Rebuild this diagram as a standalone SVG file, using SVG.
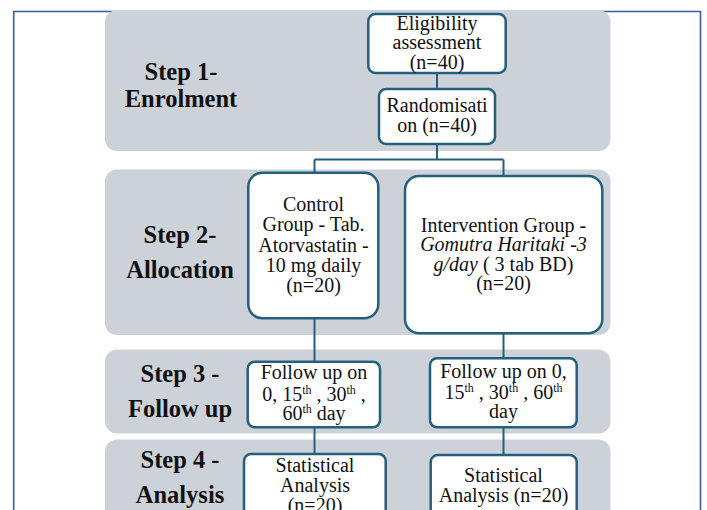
<svg xmlns="http://www.w3.org/2000/svg" width="707" height="510" viewBox="0 0 707 510">
<style>
.panel{fill:#cdd2d9}
.box{fill:#ffffff;stroke:#245f7e;stroke-width:2.5}
.conn{fill:none;stroke:#245f7e;stroke-width:2}
.step{font-family:"Liberation Serif","Times New Roman",serif;font-weight:bold;font-size:24.5px;fill:#111;text-anchor:middle}
.t{font-family:"Liberation Serif","Times New Roman",serif;font-size:20px;fill:#111;text-anchor:middle}
.sup{font-size:12px}
</style>
<rect width="707" height="510" fill="#ffffff"/>
<path d="M13.7 510 V11.5 H700.5 V510" fill="none" stroke="#3b5aa6" stroke-width="1.6"/>
<g id="panels">
<rect class="panel" x="105" y="10" width="505.5" height="141" rx="12"/>
<rect class="panel" x="105" y="169.5" width="505.5" height="165.5" rx="12"/>
<rect class="panel" x="105" y="349.5" width="505.5" height="84" rx="12"/>
<rect class="panel" x="105" y="439.5" width="505.5" height="90" rx="12"/>
</g>
<g id="step-labels">
<text class="step" x="181" y="80">Step 1-</text>
<text class="step" x="181" y="106.5">Enrolment</text>
<text class="step" x="180" y="243">Step 2-</text>
<text class="step" x="180" y="278">Allocation</text>
<text class="step" x="180" y="381.5">Step 3 -</text>
<text class="step" x="180" y="416.5">Follow up</text>
<text class="step" x="180" y="467.5">Step 4 -</text>
<text class="step" x="180" y="503">Analysis</text>
</g>
<g id="connectors">
<path class="conn" d="M437 73 V89"/>
<path class="conn" d="M437 144 V159.5 M314.5 159.5 H503.5 M314.5 159.5 V173 M503.5 159.5 V176"/>
<path class="conn" d="M314.5 318 V362 M503.5 333 V358"/>
<path class="conn" d="M314.5 427 V454 M503.5 427 V455"/>
</g>
<g id="eligibility">
<rect class="box" x="368.3" y="14" width="137.4" height="59" rx="7"/>
<text class="t" x="437" y="29.5">Eligibility</text>
<text class="t" x="437" y="49.3">assessment</text>
<text class="t" x="437" y="68.5">(n=40)</text>
</g>
<g id="randomisation">
<rect class="box" x="379" y="89" width="116" height="55" rx="7"/>
<text class="t" x="437" y="112.3">Randomisati</text>
<text class="t" x="437" y="131.7">on (n=40)</text>
</g>
<g id="control">
<rect class="box" x="248.3" y="172.7" width="130" height="145.6" rx="14"/>
<text class="t" x="313.5" y="210.5">Control</text>
<text class="t" x="313.5" y="231">Group - Tab.</text>
<text class="t" x="313.5" y="251.5">Atorvastatin -</text>
<text class="t" x="313.5" y="271.5">10 mg daily</text>
<text class="t" x="313.5" y="291.5">(n=20)</text>
</g>
<g id="intervention">
<rect class="box" x="405" y="176" width="197.3" height="157.3" rx="14"/>
<text class="t" x="503.5" y="231.5">Intervention Group -</text>
<text class="t" x="503.5" y="251" font-style="italic">Gomutra Haritaki -3</text>
<text class="t" x="503.5" y="270.7"><tspan font-style="italic">g/day</tspan> ( 3 tab BD)</text>
<text class="t" x="503.5" y="290">(n=20)</text>
</g>
<g id="followup-control">
<rect class="box" x="247.7" y="361.7" width="132.3" height="65.6" rx="7"/>
<text class="t" x="314" y="379.3">Follow up on</text>
<text class="t" x="314" y="401">0, 15<tspan class="sup" dy="-7">th</tspan><tspan dy="7"> , 30</tspan><tspan class="sup" dy="-7">th</tspan><tspan dy="7"> ,</tspan></text>
<text class="t" x="314" y="420">60<tspan class="sup" dy="-7">th</tspan><tspan dy="7"> day</tspan></text>
</g>
<g id="followup-intervention">
<rect class="box" x="430" y="358.3" width="146.7" height="69" rx="7"/>
<text class="t" x="503.5" y="377.7">Follow up on 0,</text>
<text class="t" x="503.5" y="399.3">15<tspan class="sup" dy="-7">th</tspan><tspan dy="7"> , 30</tspan><tspan class="sup" dy="-7">th</tspan><tspan dy="7"> , 60</tspan><tspan class="sup" dy="-7">th</tspan></text>
<text class="t" x="503.5" y="418.3">day</text>
</g>
<g id="analysis-control">
<rect class="box" x="244" y="454" width="141.7" height="80" rx="7"/>
<text class="t" x="315" y="471.7">Statistical</text>
<text class="t" x="315" y="491.7">Analysis</text>
<text class="t" x="315" y="511.5">(n=20)</text>
</g>
<g id="analysis-intervention">
<rect class="box" x="430.7" y="455" width="146" height="80" rx="7"/>
<text class="t" x="503.5" y="481.7">Statistical</text>
<text class="t" x="503.5" y="502">Analysis (n=20)</text>
</g>
</svg>
